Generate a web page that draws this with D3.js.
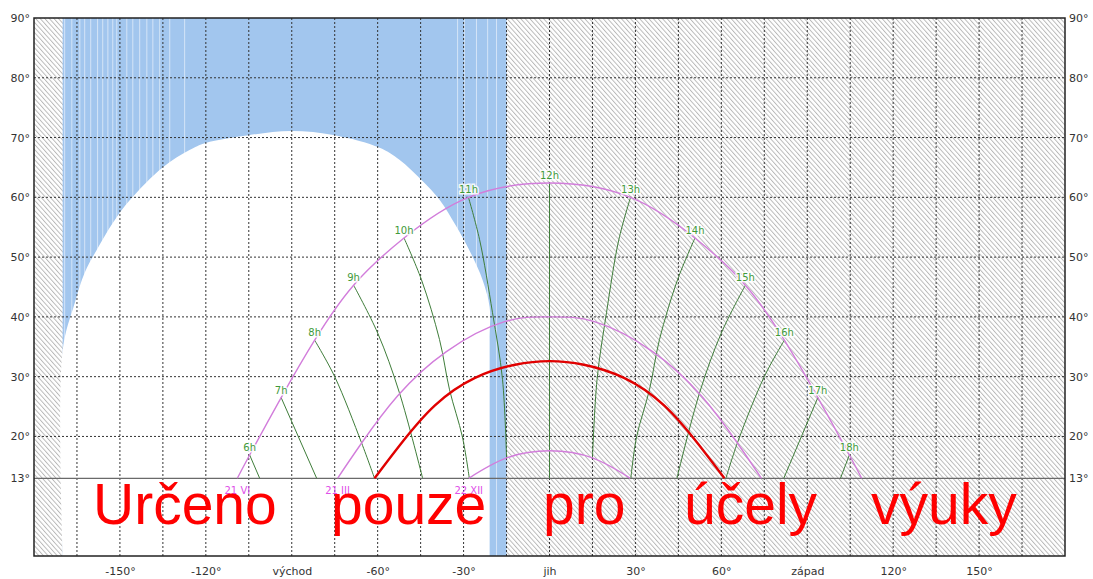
<html lang="cs">
<head>
  <meta charset="utf-8"/>
  <script src="https://d3js.org/d3.v7.min.js"></script>
  <style>
  body { margin:0; background:#fff; }
  text { font-family:"DejaVu Sans", sans-serif; }
  .grid { stroke:#333; stroke-width:1px; stroke-dasharray:2,2; fill:none; }
  .axis text { fill:#333; font-size:11px; }
  .hourlab { fill:#3f9a3a; font-size:10px; paint-order:stroke; stroke:#fff; stroke-opacity:0.85; stroke-width:3px; }
  .datelab { fill:#e050e8; font-size:10px; }
  .mark { fill:#f00; font-family:"Liberation Sans", Arial, sans-serif; font-size:57px; }
  </style>
</head>
<body>
<svg id="chart" width="1093" height="579"></svg>
<script>
  // x = azimut (stupne), y = vyska slunce (stupne)
  const xTicks = [-150, -120, -90, -60, -30, 0, 30, 60, 90, 120, 150];
  const xNames = {"-90": "východ", "0": "jih", "90": "západ"};
  const yTicks = [13, 20, 30, 40, 50, 60, 70, 80, 90];
  const horizon = 13;

  // prekazka (modra) a vyrez oblohy (bily)
  const obstacleFrom = -170, obstacleTo = -15;
  const skyHole = [[-170,0],[-170,34.4],[-165.8,42.3],[-162.3,47.4],[-158.1,51.2],[-152.5,55.7],
    [-146.6,59.5],[-135.1,65],[-125.7,67.9],[-120.1,69.1],[-105.1,70.4],[-90.1,71.1],[-75,70.4],
    [-59.3,68.3],[-52.4,66.3],[-44.7,62.9],[-38.4,59.6],[-32.5,55.1],[-26.9,50.1],[-23.4,46.2],
    [-20.9,41.6],[-20.9,36.1],[-20.9,0]];
  const obstacleSeams = [-169.3,-166.8,-164,-162.3,-160.2,-157.8,-156,-154.2,-152.5,-151.1,-147.6,
    -145.5,-143.1,-140.6,-138.5,-136.1,-132.6,-127.4,-32.1,-29.7,-25.5,-21.6,-18.5];

  // drahy slunce
  const dateLabels = ["21 VI", "21 III", "22 XII"];
  const pathJun = [[-109,13],[-104.7,16.9],[-93.7,26.5],[-82,36.1],[-68.4,45.3],[-50.8,53.2],[-28.3,60],
    [0,62.4],[28.3,60],[50.8,53.2],[68.4,45.3],[82,36.1],[93.7,26.5],[104.7,16.9],[109,13]];
  const pathMar = [[-74,13],[-65.6,18.9],[-53,26.8],[-36,34.2],[-15.7,39.2],[0,40],
    [15.7,39.2],[36,34.2],[53,26.8],[65.6,18.9],[74,13]];
  const pathDec = [[-28.2,13],[-15,16.4],[0,17.6],[15,16.4],[28.2,13]];
  const pathDay = [[-61.1,13],[-52,18.7],[-40,25.2],[-26,29.8],[-12,32],[0,32.6],
    [12,32],[26,29.8],[40,25.2],[52,18.7],[61.1,13]];

  // hodinove cary
  const hourNames = ["6h","7h","8h","9h","10h","11h","12h","13h","14h","15h","16h","17h","18h"];
  const hourLines = [
    [[-104.7,16.9],[-101.2,13]],
    [[-93.7,26.5],[-81.3,13]],
    [[-82,36.1],[-75,30],[-65.6,18.9],[-61.1,13]],
    [[-68.4,45.3],[-60,37.3],[-52.4,27.3],[-44.3,13]],
    [[-50.8,53.2],[-44.7,46.2],[-38.4,36.2],[-34.9,27.8],[-30.4,19.9],[-28,13]],
    [[-28.3,60],[-24.4,52.9],[-19.9,40.7],[-16.4,29.5],[-15,16.4]],
    [[0,62.4],[0,13]],
    [[28.3,60],[24.2,52.9],[19.9,40.7],[16.6,29.5],[15,16.4]],
    [[50.8,53.2],[44.7,46.2],[38.4,36.2],[34.9,27.8],[30.4,19.9],[28.4,13]],
    [[68.4,45.3],[60,37.3],[52.4,27.3],[44.5,13]],
    [[82,36.1],[75,30],[65.6,18.9],[61.6,13]],
    [[93.7,26.5],[81.8,13]],
    [[104.7,16.9],[101.6,13]]
  ];

  const words = ["Určeno", "pouze", "pro", "účely", "výuky"];

  const svg = d3.select("#chart");
  const x = d3.scaleLinear().domain([-180, 180]).range([34, 1065]);
  const y = d3.scaleLinear().domain([0, 90]).range([556, 18]);

  const defs = svg.append("defs");
  const pat = defs.append("pattern").attr("id", "hatch").attr("patternUnits", "userSpaceOnUse")
    .attr("width", 3.4).attr("height", 3.4).attr("patternTransform", "rotate(-42)");
  pat.append("rect").attr("width", 3.4).attr("height", 3.4).attr("fill", "#fff");
  pat.append("line").attr("x1", 0.5).attr("x2", 0.5).attr("y1", 0).attr("y2", 3.4)
    .attr("stroke", "#b4b4b4").attr("stroke-width", 0.9);

  // hatched background over whole plot
  svg.append("rect").attr("x", x(-180)).attr("y", y(90))
    .attr("width", x(180) - x(-180)).attr("height", y(0) - y(90)).attr("fill", "url(#hatch)");

  svg.append("rect").attr("x", x(obstacleFrom)).attr("y", y(90))
    .attr("width", x(obstacleTo) - x(obstacleFrom)).attr("height", y(0) - y(90)).attr("fill", "#a2c6ee");

  svg.append("g").selectAll("line").data(obstacleSeams).join("line")
    .attr("x1", d => x(d)).attr("x2", d => x(d)).attr("y1", y(90)).attr("y2", y(0))
    .attr("stroke", "#d4e4f7").attr("stroke-width", 1);

  const line = d3.line().x(d => x(d[0])).y(d => y(d[1]));
  svg.append("path").datum(skyHole).attr("fill", "#fff")
    .attr("d", line.curve(d3.curveCatmullRom.alpha(0.5)));

  // grid
  const grid = svg.append("g");
  grid.selectAll("line.v").data(d3.range(-165, 180, 15)).join("line").attr("class", "grid v")
    .attr("x1", d => x(d)).attr("x2", d => x(d)).attr("y1", y(90)).attr("y2", y(0));
  grid.selectAll("line.h").data(d3.range(20, 90, 10)).join("line").attr("class", "grid h")
    .attr("x1", x(-180)).attr("x2", x(180)).attr("y1", d => y(d)).attr("y2", d => y(d));
  svg.append("line").attr("x1", x(-180)).attr("x2", x(180)).attr("y1", y(horizon)).attr("y2", y(horizon))
    .attr("stroke", "#6a6a6a").attr("stroke-width", 1.3);

  svg.append("rect").attr("x", x(-180)).attr("y", y(90))
    .attr("width", x(180) - x(-180)).attr("height", y(0) - y(90))
    .attr("fill", "none").attr("stroke", "#222").attr("stroke-width", 1.5);

  // axes
  svg.append("g").attr("class", "axis").attr("transform", "translate(0," + y(0) + ")")
    .call(d3.axisBottom(x).tickValues(xTicks).tickSize(0).tickPadding(11)
      .tickFormat(d => xNames[d] !== undefined ? xNames[d] : d + "°"))
    .call(g => g.select(".domain").remove());
  svg.append("g").attr("class", "axis").attr("transform", "translate(" + x(-180) + ",0)")
    .call(d3.axisLeft(y).tickValues(yTicks).tickSize(0).tickPadding(4).tickFormat(d => d + "°"))
    .call(g => g.select(".domain").remove());
  svg.append("g").attr("class", "axis").attr("transform", "translate(" + x(180) + ",0)")
    .call(d3.axisRight(y).tickValues(yTicks).tickSize(0).tickPadding(4).tickFormat(d => d + "°"))
    .call(g => g.select(".domain").remove());

  // hour lines
  const smooth = d3.line().x(d => x(d[0])).y(d => y(d[1])).curve(d3.curveCatmullRom.alpha(0.5));
  svg.append("g").selectAll("path").data(hourLines).join("path")
    .attr("d", smooth).attr("fill", "none").attr("stroke", "#3f7d3a").attr("stroke-width", 1);

  // sun paths
  const arc = d3.line().x(d => x(d[0])).y(d => y(d[1])).curve(d3.curveNatural);
  svg.append("g").selectAll("path").data([pathJun, pathMar, pathDec]).join("path")
    .attr("d", arc).attr("fill", "none").attr("stroke", "#d27ddb").attr("stroke-width", 1.4);
  svg.append("path").datum(pathDay).attr("d", arc).attr("fill", "none")
    .attr("stroke", "#e00000").attr("stroke-width", 2.4);

  svg.append("g").selectAll("text").data([pathJun, pathMar, pathDec]).join("text")
    .attr("class", "datelab").attr("text-anchor", "middle")
    .attr("x", d => x(d[0][0])).attr("y", y(horizon) + 16).text((d, i) => dateLabels[i]);

  svg.append("g").selectAll("text").data(hourLines).join("text")
    .attr("class", "hourlab").attr("text-anchor", "middle")
    .attr("x", d => x(d[0][0])).attr("y", d => y(d[0][1]) - 4).text((d, i) => hourNames[i]);

  // watermark
  const wordX = [93, 331, 543, 684, 871];
  svg.append("g").selectAll("text").data(words).join("text").attr("class", "mark")
    .attr("x", (d, i) => wordX[i]).attr("y", 524).text(d => d);
</script>
</body>
</html>
